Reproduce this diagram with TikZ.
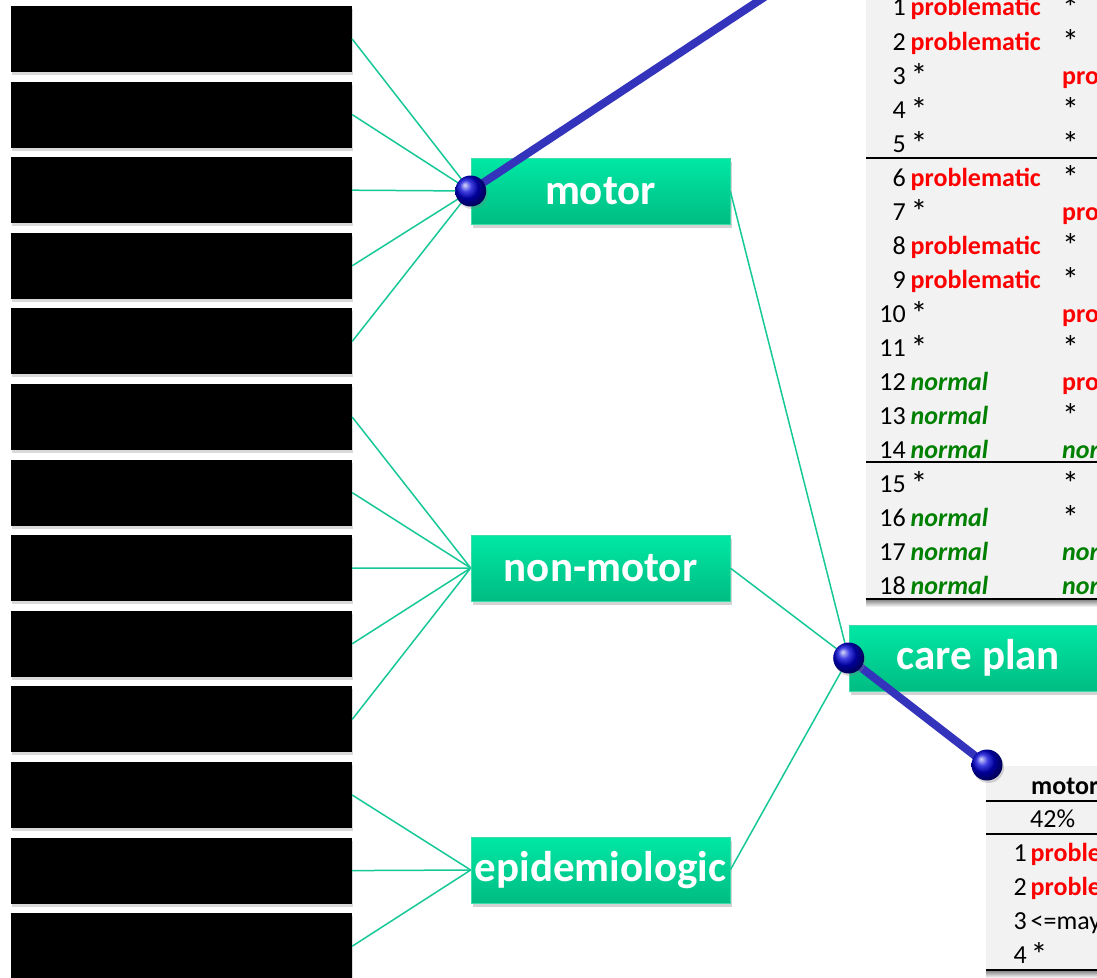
\documentclass[tikz,border=0pt]{standalone}
\usepackage{fontspec}
\usepackage{graphicx}
\setmainfont{Carlito}
\usetikzlibrary{shadows}
\definecolor{connc}{RGB}{22,200,150}
\definecolor{blinec}{RGB}{51,51,187}
\definecolor{boxtop}{RGB}{0,232,165}
\definecolor{boxbot}{RGB}{0,188,130}
\definecolor{boxedge}{RGB}{60,220,170}
\definecolor{tblgray}{RGB}{242,242,242}
\definecolor{probred}{RGB}{255,0,0}
\definecolor{normgreen}{RGB}{0,128,0}
\newcommand\tstar{\raisebox{-0.12em}{\scalebox{1.3}{*}}}
\begin{document}
\begin{tikzpicture}[x=1pt,y=-1pt,
  blackbox/.style={fill=black, minimum width=341pt, minimum height=66pt, inner sep=0pt,
    drop shadow={opacity=0.3, shadow xshift=1pt, shadow yshift=-3pt}},
  catbox/.style={top color=boxtop, bottom color=boxbot, draw=boxedge, line width=0.6pt,
    minimum width=259pt, minimum height=66pt, inner sep=0pt, text=white,
    font=\fontsize{43}{43}\selectfont\bfseries,
    drop shadow={opacity=0.35, shadow xshift=2pt, shadow yshift=-4pt}},
  connline/.style={draw=connc, line width=1.5pt},
  blueline/.style={draw=blinec, line width=8pt},
  ballnode/.style={circle, inner sep=0pt, minimum size=31pt, shading=ball, ball color=blue!85!black,
    drop shadow={opacity=0.3, shadow xshift=1.5pt, shadow yshift=-2.5pt}},
  tnum/.style={anchor=base east, inner sep=0pt, font=\fontsize{26}{26}\selectfont},
  tplain/.style={anchor=base west, inner sep=0pt, font=\fontsize{26}{26}\selectfont},
  tprob/.style={anchor=base west, inner sep=0pt, text=probred, font=\fontsize{26}{26}\selectfont\bfseries},
  tnorm/.style={anchor=base west, inner sep=0pt, text=normgreen, font=\fontsize{26}{26}\selectfont\bfseries\itshape},
  thead/.style={anchor=base west, inner sep=0pt, font=\fontsize{26}{26}\selectfont\bfseries},
  trule/.style={draw=black, line width=2pt},
  tbottom/.style={draw=black, line width=2.6pt}
]
\useasboundingbox (0,0) rectangle (1097,977);
\clip (0,0) rectangle (1097,977);

% left black boxes
\foreach \i in {1,...,13}{
  \node[blackbox] (b\i) at (181.5,{39+75.6*(\i-1)}) {};
}

% category boxes
\node[catbox] (motor) at (600.5,191) {motor};
\node[catbox] (nonmotor) at (600.5,568) {non-motor};
\node[catbox] (epi) at (600.5,870) {epidemiologic};
\node[catbox] (care) at (978.5,658) {care plan};

% thin connectors
\foreach \i in {1,...,5}{ \draw[connline] (b\i.east) -- (motor.west); }
\foreach \i in {6,...,10}{ \draw[connline] (b\i.east) -- (nonmotor.west); }
\foreach \i in {11,...,13}{ \draw[connline] (b\i.east) -- (epi.west); }
\draw[connline] (motor.east) -- (care.west);
\draw[connline] (nonmotor.east) -- (care.west);
\draw[connline] (epi.east) -- (care.west);

% top table
\fill[tblgray] (866,-5) rectangle (1100,599);
\shade[top color=black!45, bottom color=white] (866,600) rectangle (1100,607);
\draw[trule] (866,157.5) -- (1100,157.5);
\draw[trule] (866,462) -- (1100,462);
\draw[tbottom] (866,599) -- (1100,599);
\foreach \i/\sa/\ta/\sb/\tb in {
  1/tprob/problematic/tplain/\tstar,
  2/tprob/problematic/tplain/\tstar,
  3/tplain/\tstar/tprob/pro,
  4/tplain/\tstar/tplain/\tstar,
  5/tplain/\tstar/tplain/\tstar,
  6/tprob/problematic/tplain/\tstar,
  7/tplain/\tstar/tprob/pro,
  8/tprob/problematic/tplain/\tstar,
  9/tprob/problematic/tplain/\tstar,
  10/tplain/\tstar/tprob/pro,
  11/tplain/\tstar/tplain/\tstar,
  12/tnorm/normal/tprob/pro,
  13/tnorm/normal/tplain/\tstar,
  14/tnorm/normal/tnorm/nor,
  15/tplain/\tstar/tplain/\tstar,
  16/tnorm/normal/tplain/\tstar,
  17/tnorm/normal/tnorm/nor,
  18/tnorm/normal/tnorm/nor}{
  \pgfmathsetmacro{\yy}{16+34*(\i-1)}
  \node[tnum] (tn\i) at (906,\yy) {\i};
  \node[\sa] (ta\i) at (910.5,\yy) {\ta};
  \node[\sb] (tb\i) at (1062,\yy) {\tb};
}

% bottom table
\fill[tblgray] (986,766) rectangle (1100,970);
\shade[top color=black!45, bottom color=white] (986,971) rectangle (1100,978);
\node[thead] (bh) at (1031,794) {motor};
\draw[trule] (986,801) -- (1100,801);
\node[tplain] (bpct) at (1030,827) {42\%};
\draw[trule] (986,834) -- (1100,834);
\foreach \i/\sa/\ta in {1/tprob/proble, 2/tprob/proble, 3/tplain/<=may, 4/tplain/\tstar}{
  \pgfmathsetmacro{\yy}{861+34*(\i-1)}
  \node[tnum] (bn\i) at (1027,\yy) {\i};
  \node[\sa] (bt\i) at (1030.5,\yy) {\ta};
}
\draw[tbottom] (986,970) -- (1100,970);

% blue links and balls
\coordinate (topend) at (820.5,-40);
\coordinate (mpos) at (motor.west);
\coordinate (cpos) at (care.west);
\coordinate (bpos) at (987,765);
\draw[blueline] (mpos) -- (topend);
\draw[blueline] (cpos) -- (bpos);
\node[ballnode] (mball) at (mpos) {};
\node[ballnode] (cball) at (cpos) {};
\node[ballnode] (bball) at (bpos) {};
\end{tikzpicture}
\end{document}
